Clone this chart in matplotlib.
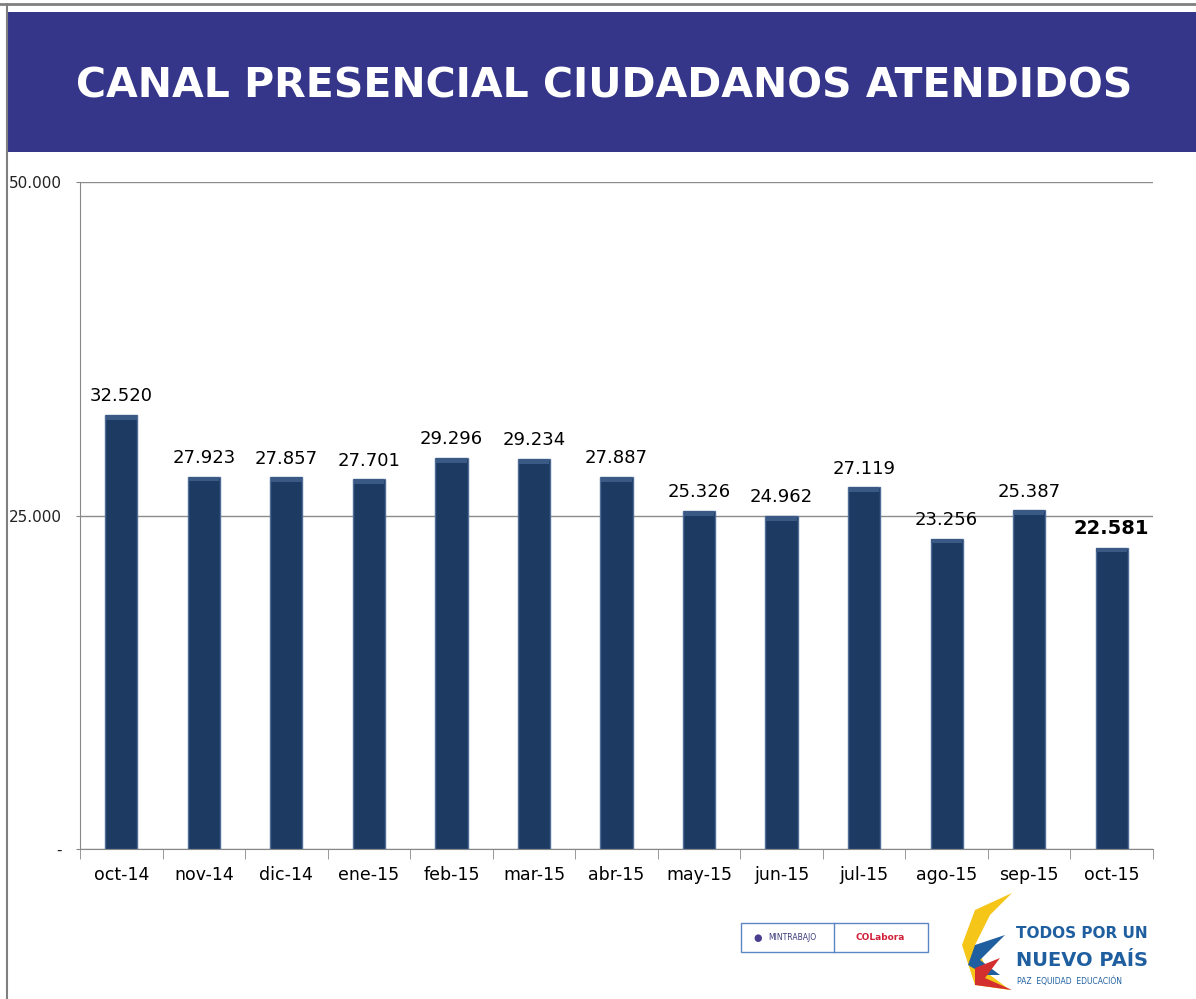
import matplotlib
matplotlib.use("Agg")
import matplotlib.pyplot as plt
from matplotlib.patches import Rectangle, Polygon
from matplotlib.ticker import FixedLocator

categories = ["oct-14", "nov-14", "dic-14", "ene-15", "feb-15", "mar-15", "abr-15",
              "may-15", "jun-15", "jul-15", "ago-15", "sep-15", "oct-15"]
values = [32520, 27923, 27857, 27701, 29296, 29234, 27887,
          25326, 24962, 27119, 23256, 25387, 22581]
y_ticks = [0, 25000, 50000]
y_tick_labels = ["-", "25.000", "50.000"]
title = "CANAL PRESENCIAL CIUDADANOS ATENDIDOS"

W, H = 1196, 999
fig = plt.figure(figsize=(W / 100, H / 100), dpi=100)

def fx(px):
    return px / W

def fy(py):
    return 1 - py / H

# frame lines
fig.add_artist(plt.Line2D([0, 1], [fy(4), fy(4)], color="#808080", lw=2))
fig.add_artist(plt.Line2D([fx(7), fx(7)], [fy(4), 0], color="#808080", lw=1.5))

# banner
fig.add_artist(Rectangle((fx(8), fy(152)), 1 - fx(8), fy(12) - fy(152),
                         transform=fig.transFigure, facecolor="#35368A", edgecolor="none"))
fig.text(fx(604), fy(86), title, color="white", fontsize=29.5, fontweight="bold",
         ha="center", va="center", family="DejaVu Sans")

# axes
ax = fig.add_axes([fx(80), fy(849), fx(1153) - fx(80), fy(182) - fy(849)])
x = list(range(len(categories)))
ax.bar(x, values, width=0.39, color="#1D3A63", edgecolor="#4F6D96", linewidth=1.0, zorder=3)
# subtle top highlight (bevel)
for xi, v in zip(x, values):
    ax.bar(xi, 350, bottom=v - 350, width=0.37, color="#3A5A85", linewidth=0, zorder=4)

ax.set_xlim(-0.5, len(categories) - 0.5)
ax.set_ylim(0, 50000)
ax.yaxis.set_major_locator(FixedLocator(y_ticks))
ax.set_yticklabels(y_tick_labels, fontsize=11, color="#222222")
ax.tick_params(axis="y", length=3, color="#888888", pad=10)
ax.set_xticks(x)
ax.set_xticklabels(categories, fontsize=12.5)
ax.tick_params(axis="x", length=0, pad=12)
ax.set_xticks([i - 0.5 for i in range(len(categories) + 1)], minor=True)
ax.tick_params(axis="x", which="minor", length=7, color="#888888")
ax.grid(axis="y", color="#8c8c8c", lw=1, zorder=0)
for s in ["top", "right"]:
    ax.spines[s].set_visible(False)
ax.spines["left"].set_color("#888888")
ax.spines["bottom"].set_color("#888888")

for i, (xi, v) in enumerate(zip(x, values)):
    lab = f"{v:,}".replace(",", ".")
    last = i == len(values) - 1
    ax.annotate(lab, (xi, v), xytext=(0, 7), textcoords="offset points",
                ha="center", va="bottom", fontsize=14 if last else 13,
                fontweight="bold" if last else "normal", color="black")

# logos (approximations)
fig.add_artist(Rectangle((fx(741), fy(952)), fx(928) - fx(741), fy(923) - fy(952),
                         transform=fig.transFigure, facecolor="white", edgecolor="#5B86C2", lw=1))
fig.add_artist(plt.Line2D([fx(834), fx(834)], [fy(923), fy(952)], color="#5B86C2", lw=1))
fig.text(fx(758), fy(938), "\u25CF", color="#4A3F8F", fontsize=7, ha="center", va="center")
fig.text(fx(768), fy(938), "MINTRABAJO", color="#3A3A7A", fontsize=5.5, ha="left", va="center")
fig.text(fx(880), fy(937), "COLabora", color="#D0203A", fontsize=6.5, fontweight="bold",
         ha="center", va="center")

# swoosh shapes
fig.add_artist(Polygon([(fx(1012), fy(893)), (fx(975), fy(910)), (fx(962), fy(945)),
                        (fx(975), fy(985)), (fx(1010), fy(990)), (fx(990), fy(975)),
                        (fx(975), fy(945)), (fx(990), fy(915))],
                       closed=True, transform=fig.transFigure, facecolor="#F5C518", edgecolor="none"))
fig.add_artist(Polygon([(fx(1005), fy(935)), (fx(975), fy(945)), (fx(968), fy(965)),
                        (fx(985), fy(975)), (fx(1000), fy(975)), (fx(980), fy(960))],
                       closed=True, transform=fig.transFigure, facecolor="#1F5FA0", edgecolor="none"))
fig.add_artist(Polygon([(fx(1000), fy(958)), (fx(975), fy(968)), (fx(975), fy(985)),
                        (fx(1012), fy(990)), (fx(985), fy(978))],
                       closed=True, transform=fig.transFigure, facecolor="#D32F2F", edgecolor="none"))

fig.text(fx(1016), fy(934), "TODOS POR UN", color="#1F5FA0", fontsize=11, fontweight="bold",
         ha="left", va="center", family="DejaVu Sans Condensed")
fig.text(fx(1016), fy(960), "NUEVO PAÍS", color="#1F5FA0", fontsize=14, fontweight="bold",
         ha="left", va="center", family="DejaVu Sans Condensed")
fig.text(fx(1017), fy(981), "PAZ  EQUIDAD  EDUCACIÓN", color="#1F5FA0", fontsize=5.5,
         ha="left", va="center")

fig.savefig("out.png", dpi=100)
